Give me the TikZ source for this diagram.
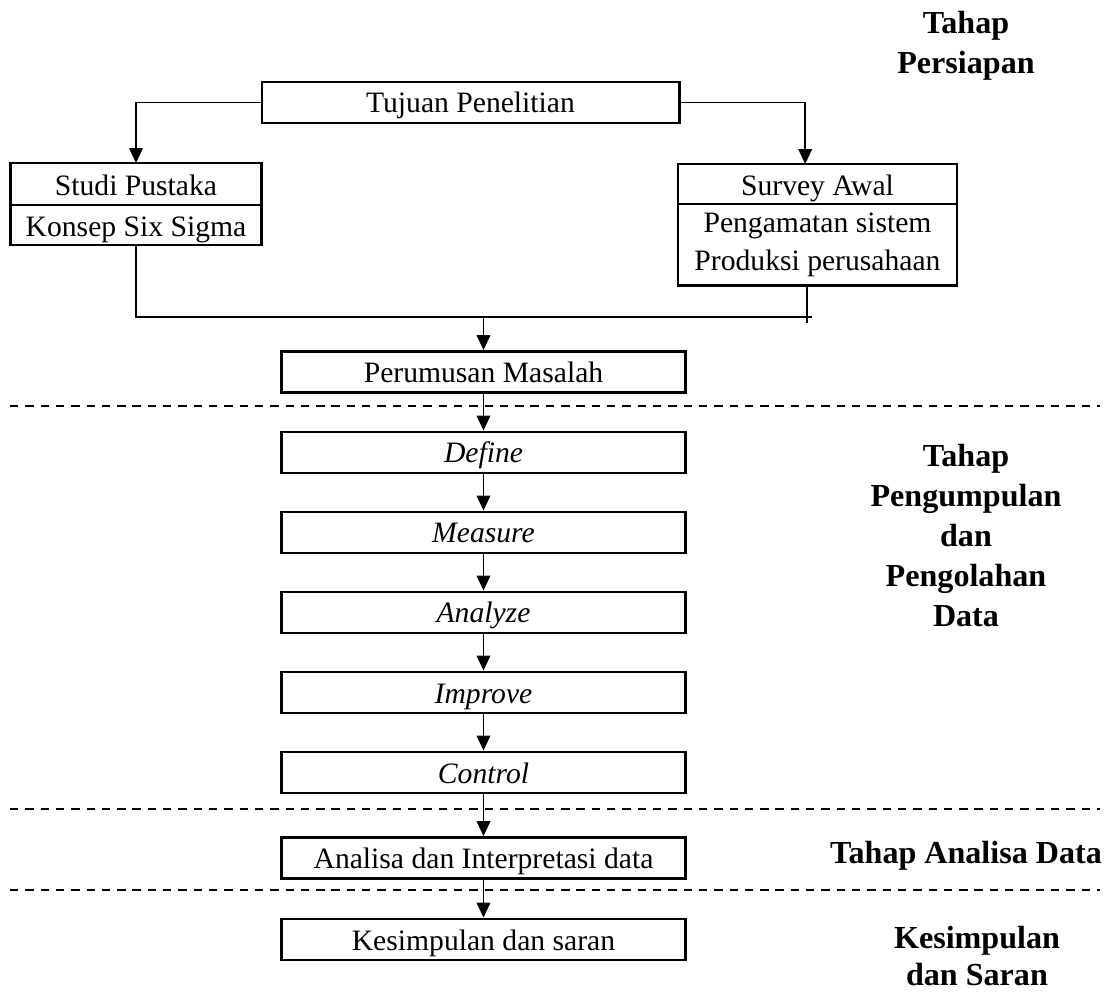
\documentclass[tikz,border=0pt]{standalone}
\usepackage{fontspec}
\setmainfont{Liberation Serif}
\usepackage{tikz}
\usetikzlibrary{arrows.meta,positioning}

\begin{document}
\begin{tikzpicture}[x=0.405pt,y=-0.405pt,
    box/.style={draw,line width=1.2pt,inner sep=0pt,minimum width=164pt,minimum height=16.6pt,
      text height=10pt,text depth=1.5pt,font=\fontsize{12}{14}\selectfont},
    part/.style={draw,line width=1.2pt,inner sep=0pt,outer sep=0pt,font=\fontsize{12}{15.4}\selectfont,align=center},
    single/.style={part,text height=10pt,text depth=1pt},
    arr/.style={line width=0.6pt,-{Triangle[length=6pt,width=5.5pt]}},
    line/.style={line width=0.6pt},
    divider/.style={line width=0.6pt,dash pattern=on 3.4pt off 2.8pt},
    stage/.style={inner sep=0pt,align=center,font=\bfseries\fontsize{13}{16.2}\selectfont}]
  \useasboundingbox (0,0) rectangle (1110,993);

  \node [box,minimum width=168.9pt] (tujuan) at (470.5,102.5) {Tujuan Penelitian};
  \node [single,minimum width=102pt,minimum height=17pt] (studi) at (136,184) {Studi Pustaka};
  \node [single,minimum width=102pt,minimum height=16.2pt,anchor=north] (konsep) at (studi.south) {Konsep Six Sigma};
  \node [single,minimum width=113pt,minimum height=16.2pt] (survey) at (817.5,184) {Survey Awal};
  \node [part,minimum width=113pt,minimum height=33.2pt,anchor=north] (pengamatan) at (survey.south) {Pengamatan sistem\\Produksi perusahaan};

  \node [box] (perumusan) at (483.5,372) {Perumusan Masalah};
  \node [box] (define) at (483.5,452.5) {\itshape Define};
  \node [box] (measure) at (483.5,532.5) {\itshape Measure};
  \node [box] (analyze) at (483.5,612.5) {\itshape Analyze};
  \node [box] (improve) at (483.5,692.5) {\itshape Improve};
  \node [box] (control) at (483.5,772.5) {\itshape Control};
  \node [box] (analisa) at (483.5,858) {Analisa dan Interpretasi data};
  \node [box] (kesimpulan) at (483.5,939.5) {Kesimpulan dan saran};

  \coordinate (jh) at (812,317);
  \coordinate (jr) at (807,323);
  \coordinate (jm) at (483.5,317);

  \draw [arr] (tujuan.west) -| (studi.north);
  \draw [arr] (tujuan.east) -| ([xshift=-5pt]survey.north);
  \draw [line] (konsep.south) |- (jh);
  \draw [line] (pengamatan.south -| jr) -- (jr);
  \draw [arr] (jm) -- (perumusan);
  \foreach \a/\b in {perumusan/define,define/measure,measure/analyze,analyze/improve,
      improve/control,control/analisa,analisa/kesimpulan}
    \draw [arr] (\a) -- (\b);

  \foreach \y in {406,809,890}
    \draw [divider] (10,\y) -- (1100,\y);

  \node [stage,anchor=north] (persiapan) at (966,11) {Tahap\\Persiapan};
  \node [stage,anchor=north] (pengumpulan) at (966,444) {Tahap\\Pengumpulan\\dan\\Pengolahan\\Data};
  \node [stage,anchor=base] (tahapanalisa) at (966,863) {Tahap Analisa Data};
  \node [stage,anchor=north,font=\bfseries\fontsize{13}{15}\selectfont] (saran) at (977,926) {Kesimpulan\\dan Saran};
\end{tikzpicture}
\end{document}
